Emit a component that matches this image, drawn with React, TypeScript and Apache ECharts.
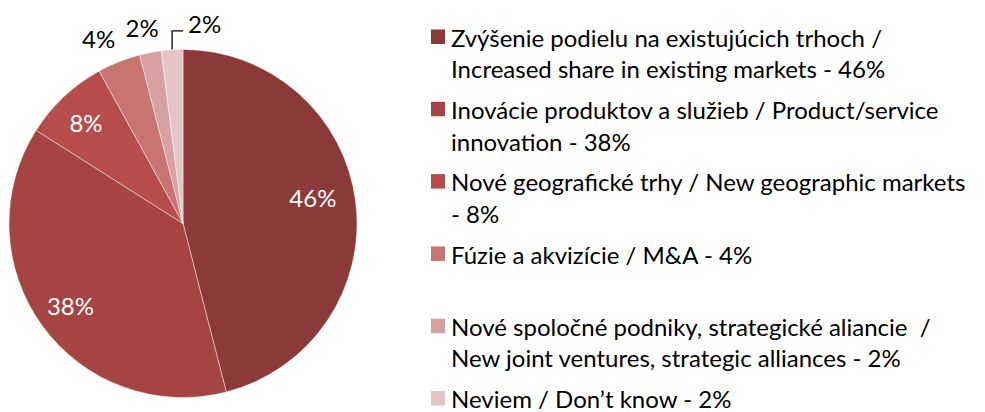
import React, { useEffect, useRef } from "react";
import * as echarts from "echarts";

const categories = [
  "Zvýšenie podielu na existujúcich trhoch /\nIncreased share in existing markets",
  "Inovácie produktov a služieb / Product/service\ninnovation",
  "Nové geografické trhy / New geographic markets\n",
  "Fúzie a akvizície / M&A",
  "Nové spoločné podniky, strategické aliancie  /\nNew joint ventures, strategic alliances",
  "Neviem / Don’t know",
];
const values = [46, 38, 8, 4, 2, 2];
const colors = ["#8B3A39", "#A54442", "#B64D4A", "#C87472", "#D6A1A0", "#E4C4C5"];

const FONT = "Lato";
const FS = 24;

export default function App() {
  const ref = useRef<HTMLDivElement>(null);
  useEffect(() => {
    document.body.style.margin = "0";
    const chart = echarts.init(ref.current!, null, { renderer: "svg" });
    const cx = 183;
    const cy = 223.5;
    const R = 174;

    const innerNudge: Record<number, [number, number]> = { 0: [-18, -7], 1: [8, -6], 2: [5, 8] };
    const outerNudge: Record<number, [number, number]> = { 3: [-10, 3], 4: [-3, 2] };

    const legendText = (i: number) => {
      const c = categories[i];
      return c.endsWith("\n") ? `${c}- ${values[i]}%` : `${c} - ${values[i]}%`;
    };

    const legendStep = 72.3;
    const legendElems: any[] = [];
    categories.forEach((_, i) => {
      legendElems.push({
        type: "rect",
        shape: { x: 431, y: 29.5 + i * legendStep, width: 14, height: 14.5 },
        style: { fill: colors[i] },
      });
      legendElems.push({
        type: "text",
        x: 451,
        y: 21.5 + i * legendStep,
        style: {
          text: legendText(i),
          fill: "#000",
          fontFamily: FONT,
          fontSize: FS,
          lineHeight: 31.5,
          verticalAlign: "top",
          align: "left",
        },
      });
    });

    const data = values.map((v, i) => ({ name: categories[i], value: v, itemStyle: { color: colors[i] } }));

    chart.setOption({
      animation: false,
      series: [
        {
          type: "pie",
          center: [cx, cy],
          radius: [0, R],
          startAngle: 90,
          clockwise: true,
          silent: true,
          itemStyle: { borderColor: "rgba(255,255,255,0.55)", borderWidth: 0.8 },
          data: values.map((v, i) => ({
            name: categories[i],
            value: v,
            itemStyle: { color: colors[i] },
            label: { show: i === values.length - 1 },
            labelLine: { show: i === values.length - 1 },
          })),
          label: {
            position: "outside",
            formatter: "{c}%",
            color: "#000",
            fontFamily: FONT,
            fontSize: FS,
          },
          labelLine: { lineStyle: { color: "#000", width: 1.3 }, length: 10, length2: 10 },
          labelLayout: (p: any) => {
            if (p.dataIndex !== values.length - 1 || !p.labelLinePoints) return {};
            const sx = p.labelLinePoints[0][0];
            const sy = p.labelLinePoints[0][1];
            return {
              x: sx + 16,
              y: sy - 26,
              align: "left",
              verticalAlign: "middle",
              labelLinePoints: [
                [sx, sy],
                [sx, sy - 19],
                [sx + 11, sy - 19],
              ],
            };
          },
        },
        {
          type: "pie",
          center: [cx, cy],
          radius: [R - 56, R],
          startAngle: 90,
          clockwise: true,
          silent: true,
          itemStyle: { color: "transparent", borderWidth: 0 },
          labelLine: { show: false },
          data: data.map((d, i) => ({
            name: d.name,
            value: d.value,
            itemStyle: { color: "transparent" },
            label: { show: i in innerNudge, offset: innerNudge[i] || [0, 0] },
          })),
          label: {
            position: "inside",
            formatter: "{c}%",
            color: "#fff",
            fontFamily: FONT,
            fontSize: FS,
          },
        },
        {
          type: "pie",
          center: [cx, cy],
          radius: [R + 12, R + 38],
          startAngle: 90,
          clockwise: true,
          silent: true,
          itemStyle: { color: "transparent", borderWidth: 0 },
          labelLine: { show: false },
          data: data.map((d, i) => ({
            name: d.name,
            value: d.value,
            itemStyle: { color: "transparent" },
            label: { show: i in outerNudge, offset: outerNudge[i] || [0, 0] },
          })),
          label: {
            position: "inside",
            formatter: "{c}%",
            color: "#000",
            fontFamily: FONT,
            fontSize: FS,
          },
        },
      ],
      graphic: legendElems,
    });
    return () => chart.dispose();
  }, []);
  return <div ref={ref} style={{ width: 985, height: 412 }} />;
}
